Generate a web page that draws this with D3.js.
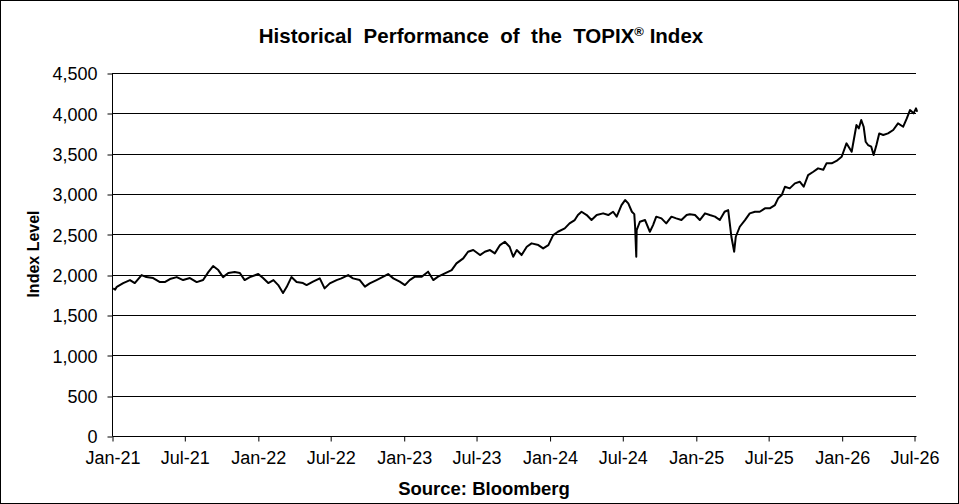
<!DOCTYPE html>
<html>
<head>
<meta charset="utf-8">
<script src="https://cdn.jsdelivr.net/npm/d3@7"></script>
<style>
  html, body { margin: 0; padding: 0; background: #fff; }
  svg { display: block; font-family: Arial, "Liberation Sans", sans-serif; }
</style>
</head>
<body>
<svg id="chart" width="959" height="504"></svg>
<script>
// ---- Data ----
const dates = [
"2021-01-04","2021-01-09","2021-01-13","2021-01-29","2021-02-15","2021-02-27","2021-03-16","2021-03-28",
"2021-04-14","2021-05-01","2021-05-13","2021-05-26","2021-06-12","2021-06-28","2021-07-15","2021-08-01",
"2021-08-17","2021-08-30","2021-09-11","2021-09-24","2021-10-06","2021-10-19","2021-11-04","2021-11-17",
"2021-11-29","2021-12-12","2022-01-02","2022-01-14","2022-01-27","2022-02-09","2022-02-21","2022-03-05",
"2022-03-14","2022-03-26","2022-04-08","2022-04-24","2022-05-03","2022-05-19","2022-06-05","2022-06-17",
"2022-06-30","2022-07-17","2022-07-29","2022-08-15","2022-08-27","2022-09-13","2022-09-26","2022-10-08",
"2022-10-25","2022-11-11","2022-11-23","2022-12-06","2022-12-22","2023-01-04","2023-01-16","2023-01-29",
"2023-02-15","2023-03-03","2023-03-16","2023-03-28","2023-04-14","2023-05-01","2023-05-13","2023-05-30",
"2023-06-11","2023-06-24","2023-07-11","2023-07-23","2023-08-05","2023-08-17","2023-08-30","2023-09-11",
"2023-09-23","2023-10-02","2023-10-11","2023-10-23","2023-11-05","2023-11-17","2023-12-04","2023-12-16",
"2023-12-29","2024-01-10","2024-01-22","2024-02-08","2024-02-20","2024-03-04","2024-03-12","2024-03-21",
"2024-04-03","2024-04-15","2024-04-28","2024-05-14","2024-05-27","2024-06-08","2024-06-17","2024-06-29",
"2024-07-08","2024-07-16","2024-07-25","2024-07-31","2024-08-02","2024-08-05","2024-08-06","2024-08-14",
"2024-08-27","2024-09-08","2024-09-16","2024-09-24","2024-10-07","2024-10-19","2024-11-01","2024-11-13",
"2024-11-26","2024-12-09","2024-12-17","2024-12-30","2025-01-11","2025-01-24","2025-02-05","2025-02-18",
"2025-03-02","2025-03-14","2025-03-23","2025-03-27","2025-03-31","2025-04-07","2025-04-11","2025-04-21",
"2025-05-04","2025-05-16","2025-05-29","2025-06-10","2025-06-23","2025-07-05","2025-07-18","2025-07-26",
"2025-08-04","2025-08-12","2025-08-24","2025-09-06","2025-09-18","2025-09-28","2025-10-09","2025-10-22",
"2025-11-03","2025-11-16","2025-11-24","2025-12-07","2025-12-19","2026-01-01","2026-01-13","2026-01-26",
"2026-02-07","2026-02-13","2026-02-19","2026-02-25","2026-03-02","2026-03-08","2026-03-16","2026-03-22",
"2026-03-29","2026-04-05","2026-04-15","2026-04-27","2026-05-10","2026-05-22","2026-06-04","2026-06-13",
"2026-06-21","2026-06-30","2026-07-06","2026-07-09"
];
const values = [
1830,1815,1850,1896,1933,1896,1995,1970,
1958,1908,1908,1946,1970,1933,1958,1908,
1933,2032,2107,2057,1970,2020,2032,2020,
1933,1970,2008,1958,1896,1933,1871,1772,
1846,1970,1908,1896,1871,1913,1954,1830,
1892,1933,1954,1995,1954,1933,1851,1892,
1933,1975,2008,1954,1913,1871,1933,1975,
1975,2037,1933,1975,2016,2057,2140,2202,
2284,2305,2243,2284,2305,2264,2367,2408,
2346,2222,2305,2243,2346,2388,2367,2326,
2367,2491,2532,2574,2636,2677,2739,2780,
2739,2677,2739,2760,2739,2780,2719,2863,
2925,2884,2780,2750,2600,2222,2553,2656,
2677,2532,2615,2719,2698,2636,2719,2698,
2677,2739,2750,2739,2677,2760,2739,2719,
2677,2780,2801,2636,2470,2284,2470,2594,
2677,2760,2780,2780,2822,2822,2863,2946,
2987,3090,3070,3132,3152,3090,3235,3276,
3318,3300,3380,3380,3410,3462,3628,3524,
3855,3814,3917,3834,3648,3607,3586,3483,
3607,3751,3731,3751,3793,3875,3834,3937,
4040,4000,4061,4020
];
const yTicks = [0, 500, 1000, 1500, 2000, 2500, 3000, 3500, 4000, 4500];
const xTickLabels = ["Jan-21","Jul-21","Jan-22","Jul-22","Jan-23","Jul-23","Jan-24","Jul-24","Jan-25","Jul-25","Jan-26","Jul-26"];
const titleText = "Historical  Performance  of  the  TOPIX";
const yTitle = "Index Level";
const sourceText = "Source: Bloomberg";

// ---- Layout ----
const svg = d3.select("#chart");
const W = 959, H = 504;
const m = { left: 112, right: 916, top: 73, bottom: 436 };

const parse = d3.timeParse("%Y-%m-%d");
const tickParse = d3.timeParse("%b-%y");
const data = dates.map((d, i) => ({ date: parse(d), value: values[i] }));
const tickDates = xTickLabels.map(t => tickParse(t));

const x = d3.scaleTime()
  .domain([tickDates[0], tickDates[tickDates.length - 1]])
  .range([m.left, 914]);
const y = d3.scaleLinear().domain([0, 4500]).range([m.bottom, m.top]);

// outer border
svg.append("rect").attr("x", 0.5).attr("y", 0.5).attr("width", W - 1).attr("height", H - 1)
  .attr("fill", "#fff").attr("stroke", "#000").attr("stroke-width", 1);

// gridlines
svg.append("g").selectAll("line").data(yTicks.filter(v => v > 0)).join("line")
  .attr("x1", m.left).attr("x2", m.right)
  .attr("y1", d => Math.round(y(d)) + 0.5).attr("y2", d => Math.round(y(d)) + 0.5)
  .attr("stroke", "#000").attr("stroke-width", 1);

// y axis
const yAxis = d3.axisLeft(y).tickValues(yTicks).tickSize(5).tickPadding(10)
  .tickFormat(d3.format(","));
const gy = svg.append("g").attr("transform", `translate(${m.left + 0.5},0.5)`).call(yAxis);
gy.select(".domain").attr("stroke", "#000").attr("d", `M0,${m.top}V${m.bottom}`);
gy.selectAll(".tick line").attr("stroke", "#000").attr("transform", d => `translate(0,${Math.round(y(d)) - y(d)})`);
gy.selectAll(".tick text").attr("font-size", 18).attr("fill", "#000")
  .attr("font-family", "Arial, 'Liberation Sans', sans-serif").attr("dy", "0.35em");

// x axis
const xAxis = d3.axisBottom(x).tickValues(tickDates).tickSize(5).tickPadding(10)
  .tickFormat((d, i) => xTickLabels[i]);
const gx = svg.append("g").attr("transform", `translate(0.5,${m.bottom + 0.5})`).call(xAxis);
gx.select(".domain").attr("stroke", "#000").attr("d", `M${m.left},0H${m.right}`);
gx.selectAll(".tick line").attr("stroke", "#000");
gx.selectAll(".tick text").attr("font-size", 18).attr("fill", "#000")
  .attr("font-family", "Arial, 'Liberation Sans', sans-serif");

// line
const line = d3.line().x(d => x(d.date)).y(d => y(d.value)).curve(d3.curveLinear);
svg.append("path").datum(data).attr("d", line)
  .attr("fill", "none").attr("stroke", "#000").attr("stroke-width", 2)
  .attr("stroke-linejoin", "round");

// title
const title = svg.append("text").attr("x", 481).attr("y", 43).attr("text-anchor", "middle")
  .attr("font-size", 20.5).attr("font-weight", "bold").attr("fill", "#000")
  .attr("xml:space", "preserve").style("white-space", "pre");
title.append("tspan").text(titleText);
title.append("tspan").attr("font-size", 13).attr("dy", -7).text("®");
title.append("tspan").attr("dy", 7).text(" Index");

// y title
svg.append("text").attr("transform", "translate(39,254) rotate(-90)")
  .attr("text-anchor", "middle").attr("font-size", 16).attr("font-weight", "bold")
  .attr("fill", "#000").text(yTitle);

// source
svg.append("text").attr("x", 484).attr("y", 495).attr("text-anchor", "middle")
  .attr("font-size", 18.5).attr("font-weight", "bold").attr("fill", "#000").text(sourceText);
</script>
</body>
</html>
